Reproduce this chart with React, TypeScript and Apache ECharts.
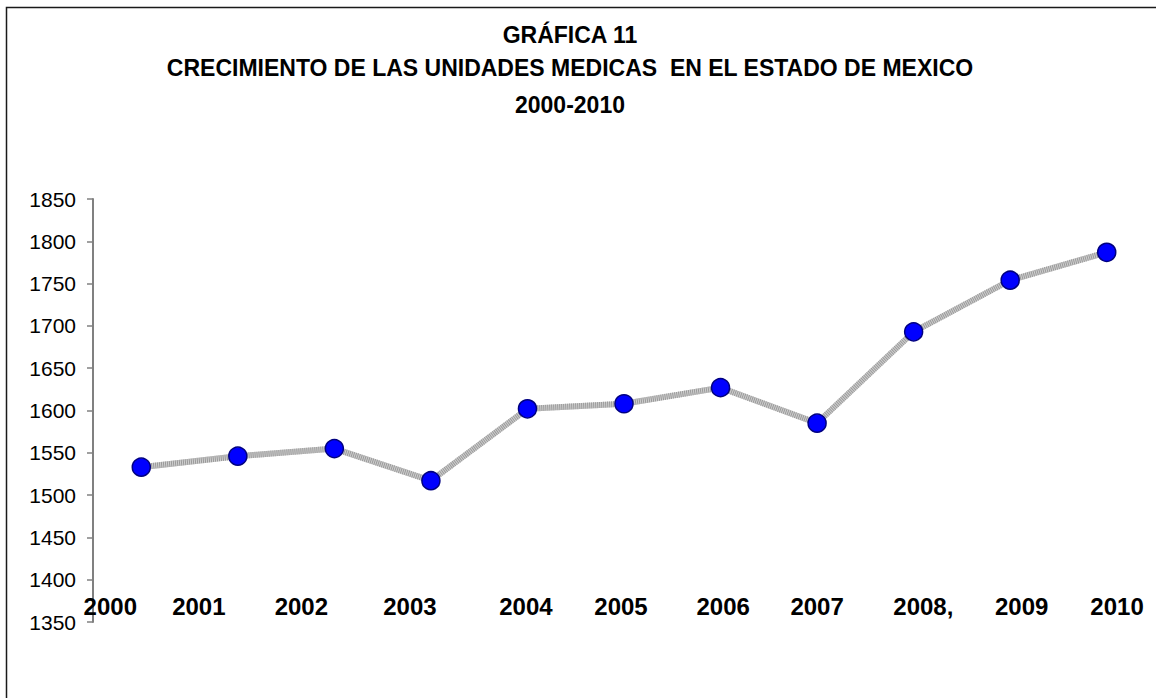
import React, { useEffect, useRef } from "react";
import * as echarts from "echarts";

const titleLines = [
  "GRÁFICA 11",
  "CRECIMIENTO DE LAS UNIDADES MEDICAS  EN EL ESTADO DE MEXICO",
  "2000-2010",
];
const years = ["2000", "2001", "2002", "2003", "2004", "2005", "2006", "2007", "2008,", "2009", "2010"];
const unidades = [1533, 1546, 1555, 1517, 1602, 1608, 1627, 1585, 1693, 1754, 1787];
const yMin = 1350;
const yMax = 1850;
const yStep = 50;

// horizontal nudges (px) of the year labels relative to their category centre
const labelNudge = [-31, -39, -33, -21, -1.5, -3, 2.6, 0, 9.7, 11.5, 10.3];

export default function App() {
  const ref = useRef<HTMLDivElement>(null);
  useEffect(() => {
    if (!ref.current) return;
    const chart = echarts.init(ref.current, null, { renderer: "svg" });
    const rich: Record<string, any> = {};
    labelNudge.forEach((d, i) => {
      rich["o" + i] = {
        fontFamily: "Liberation Sans, Arial, sans-serif",
        fontWeight: "bold",
        fontSize: 24,
        color: "#000",
        padding: d < 0 ? [0, -2 * d, 0, 0] : [0, 0, 0, 2 * d],
      };
    });
    chart.setOption({
      animation: false,
      backgroundColor: "#fff",
      grid: { left: 93, right: 1, top: 199, bottom: 76, containLabel: false },
      graphic: [
        {
          type: "rect",
          shape: { x: 6.5, y: 7.5, width: 1200, height: 800 },
          style: { fill: "none", stroke: "#1a1a1a", lineWidth: 1.5 },
          silent: true,
        },
        ...titleLines.map((t, i) => ({
          type: "text",
          x: 570,
          y: [35, 68, 105][i],
          style: {
            text: t,
            fontFamily: "Liberation Sans, Arial, sans-serif",
            fontWeight: "bold",
            fontSize: 23,
            fill: "#000",
            align: "center",
            verticalAlign: "middle",
          },
        })),
      ],
      xAxis: {
        type: "category",
        data: years,
        boundaryGap: true,
        axisLine: { show: false },
        axisTick: { show: false },
        splitLine: { show: false },
        axisLabel: {
          interval: 0,
          margin: -15.5,
          verticalAlign: "middle",
          formatter: (v: string, i: number) => `{o${i}|${v}}`,
          rich,
        },
      },
      yAxis: {
        type: "value",
        min: yMin,
        max: yMax,
        interval: yStep,
        splitLine: { show: false },
        axisLine: { show: true, lineStyle: { color: "#808080", width: 2 } },
        axisTick: { show: true, length: 6, lineStyle: { color: "#808080", width: 1.5 } },
        axisLabel: {
          margin: 17,
          fontFamily: "Liberation Sans, Arial, sans-serif",
          fontSize: 21,
          color: "#000",
          formatter: (v: number) => String(v),
        },
      },
      series: [
        {
          type: "line",
          data: unidades,
          symbol: "none",
          lineStyle: { color: "#cfcfcf", width: 6 },
          z: 2,
          silent: true,
        },
        {
          type: "line",
          data: unidades,
          symbol: "circle",
          symbolSize: 18,
          lineStyle: { color: "#999999", width: 6, type: [1, 1] },
          itemStyle: { color: "#0000ff", borderColor: "#000080", borderWidth: 1.5 },
          z: 3,
        },
      ],
    });
    return () => chart.dispose();
  }, []);
  return (
    <div
      ref={ref}
      style={{ position: "fixed", left: 0, top: 0, width: 1156, height: 698, background: "#fff" }}
    />
  );
}
